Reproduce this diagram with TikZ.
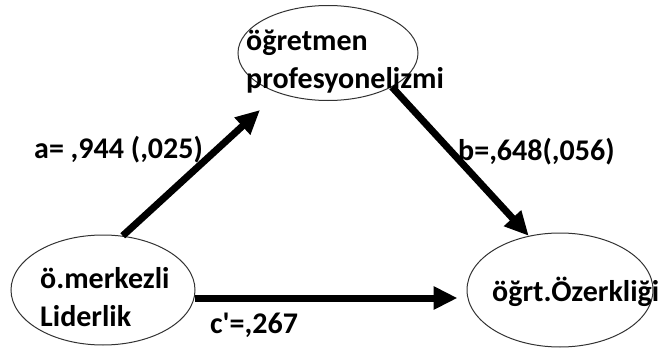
\documentclass[tikz,border=0pt]{standalone}
\usepackage{fontspec}
\setmainfont{Carlito}[Ligatures=TeXOff]
\usetikzlibrary{shapes.geometric,arrows.meta}
\begin{document}
\begin{tikzpicture}[x=1pt,y=-1pt,
  var/.style={draw=black!80,line width=1pt,ellipse,inner sep=0pt},
  txt/.style={font=\bfseries\fontsize{30}{38}\selectfont,text=black,align=left,inner sep=0pt},
  path/.style={line width=7pt,-{Triangle[length=24pt,width=22pt]}}]
\useasboundingbox (0,0) rectangle (662,356);
% latent variables
\node[var,minimum width=180pt,minimum height=95pt] (T) at (328,53) {};
\node[var,minimum width=184pt,minimum height=110pt] (L) at (103,290) {};
\node[var,minimum width=186pt,minimum height=114pt] (R) at (560,290) {};
% variable names
\node[txt,anchor=west] (Tt) at (246,62) {öğretmen\\profesyonelizmi};
\node[txt,anchor=west] (Lt) at (40,297) {ö.merkezli\\Liderlik};
\node[txt,anchor=west] (Rt) at (492,292) {öğrt.Özerkliği};
% paths
\coordinate (aTip) at (260,110);
\draw[path] (L.70) -- (aTip);
\draw[path] (T.-28) -- (R.120);
\draw[path,shorten >=9pt] (L.-5) -- (L.-5 -| R.west);
% coefficients
\node[txt,anchor=west] (a) at (34,150) {a= ,944 (,025)};
\node[txt,anchor=west] (b) at (458,152) {b=,648(,056)};
\node[txt,anchor=west] (c) at (210,325) {c'=,267};
\end{tikzpicture}
\end{document}
